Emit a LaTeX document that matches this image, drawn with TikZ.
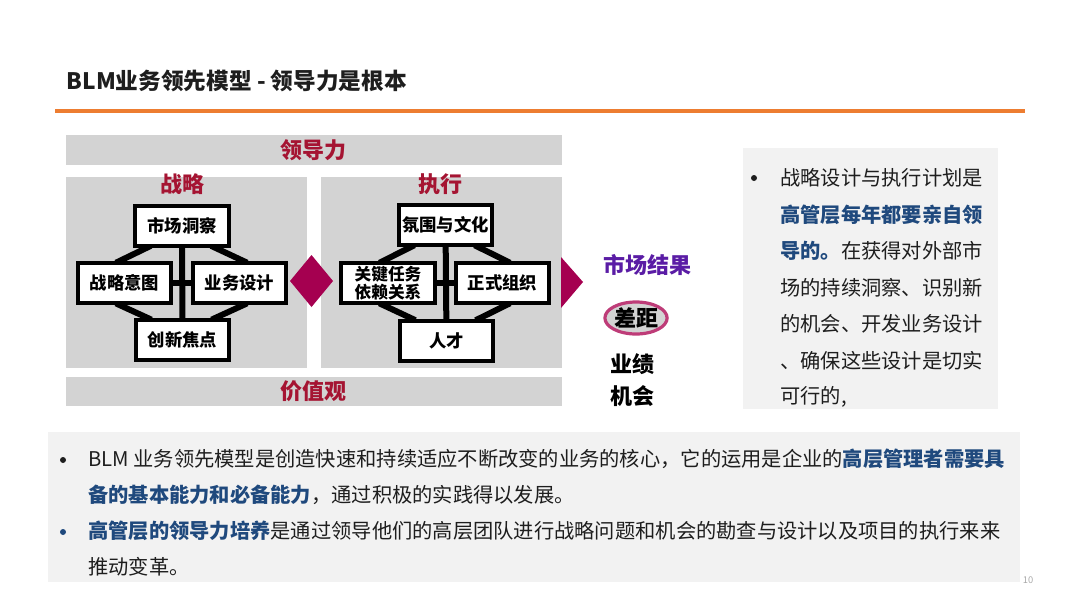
\documentclass[tikz,border=0pt]{standalone}
\usepackage{fontspec}
\setmainfont{Noto Sans CJK SC}
\usetikzlibrary{calc, shapes.geometric}

\definecolor{leadred}{RGB}{165,20,50}
\definecolor{diamondred}{RGB}{165,0,80}
\definecolor{panelgray}{RGB}{211,211,211}
\definecolor{boxgray}{RGB}{242,242,242}
\definecolor{titleline}{RGB}{237,125,49}
\definecolor{resultviolet}{RGB}{90,28,165}
\definecolor{gaprim}{RGB}{190,60,120}
\definecolor{hlblue}{RGB}{31,73,125}
\definecolor{bodytext}{RGB}{30,30,30}

\pgfdeclarelayer{panels}
\pgfdeclarelayer{links}
\pgfsetlayers{panels,links,main}

\begin{document}
\begin{tikzpicture}[x=0.75pt, y=-0.75pt,
    bartext/.style={font=\fontsize{16.5}{18}\selectfont\bfseries, text=leadred},
    elem/.style={draw=black, line width=3pt, fill=white, minimum width=70pt,
        minimum height=30pt, inner sep=1pt, font=\fontsize{13}{14}\selectfont\bfseries},
    link/.style={line width=4.5pt, black, shorten <=-3pt, shorten >=-3pt},
    bodyline/.style={anchor=west, inner sep=0pt, text=bodytext,
        font=\fontsize{15.2}{18}\selectfont},
    dot/.style={circle, fill=#1, inner sep=0pt, minimum size=4.5pt}]
    \useasboundingbox (0,0) rectangle (1080,608);

    % title and rule
    \node[anchor=west, font=\fontsize{17}{20}\selectfont\bfseries, text=bodytext] (title) at (62,81) {BLM业务领先模型 - 领导力是根本};
    \draw[titleline, line width=3pt] (55,111) -- (1025,111);

    % grey panels
    \begin{pgfonlayer}{panels}
        \fill[panelgray] (66,135) rectangle (562,165);
        \fill[panelgray] (66,177) rectangle (307,368);
        \fill[panelgray] (321,177) rectangle (562,368);
        \fill[panelgray] (66,377) rectangle (562,406);
        \fill[boxgray] (743,148) rectangle (998,409);
        \fill[boxgray] (48,432) rectangle (1020,582);
    \end{pgfonlayer}
    \node[bartext] (lead) at (313,150) {领导力};
    \node[bartext] (strat) at (182,184) {战略};
    \node[bartext] (exec) at (440,184) {执行};
    \node[bartext] (values) at (313,391) {价值观};

    % strategy boxes
    \node[elem] (mi) at (182,225.5) {市场洞察};
    \node[elem] (si) at (124.5,283) {战略意图};
    \node[elem] (bd) at (239.5,283) {业务设计};
    \node[elem] (inf) at (182.5,340) {创新焦点};

    % execution boxes
    \node[elem] (cul) at (445.5,225) {氛围与文化};
    \node[elem, inner sep=0pt, align=left, font=\fontsize{12.5}{13.5}\selectfont\bfseries] (kt) at (388,283) {关键任务\\依赖关系};
    \node[elem] (org) at (502.5,283) {正式组织};
    \node[elem] (tal) at (446.5,340.5) {人才};

    \begin{pgfonlayer}{links}
        \draw[link] (mi) -- (inf);
        \draw[link] (si) -- (bd);
        \draw[link] ($(mi.south west)+(14,0)$) -- ($(si.north)+(-5,0)$);
        \draw[link] ($(mi.south east)+(-16,0)$) -- ($(bd.north)+(4,0)$);
        \draw[link] ($(si.south)+(-5,0)$) -- ($(inf.north west)+(14,0)$);
        \draw[link] ($(bd.south)+(4,0)$) -- ($(inf.north east)+(-16,0)$);
        \draw[link] (cul) -- (tal);
        \draw[link] (kt) -- (org);
        \draw[link] ($(cul.south west)+(14,0)$) -- ($(kt.north)+(-5,0)$);
        \draw[link] ($(cul.south east)+(-16,0)$) -- ($(org.north)+(4,0)$);
        \draw[link] ($(kt.south)+(-5,0)$) -- ($(tal.north west)+(14,0)$);
        \draw[link] ($(org.south)+(4,0)$) -- ($(tal.north east)+(-16,0)$);
    \end{pgfonlayer}

    % diamond and arrow head
    \fill[diamondred] (290,281) -- (311.5,255) -- (333,281) -- (311.5,307) -- cycle;
    \fill[diamondred] (561,257) -- (583,282) -- (561,308) -- cycle;

    % market result
    \node[font=\fontsize{16.5}{18}\selectfont\bfseries, text=resultviolet] (res) at (647,265) {市场结果};
    \node[ellipse, draw=gaprim, fill=panelgray, line width=2.4pt, minimum width=45pt,
        minimum height=24pt, inner sep=0pt, font=\fontsize{16.5}{18}\selectfont\bfseries] (gap) at (636,318) {差距};
    \node[align=center, font=\fontsize{16.5}{24}\selectfont\bfseries] (perf) at (632,380) {业绩\\机会};

    % right note
    \node[dot=bodytext] (rb) at (754,178) {};
    \foreach \t [count=\i] in {战略设计与执行计划是,
        {{\bfseries\color{hlblue}高管层每年都要亲自领}},
        {{\bfseries\color{hlblue}导的。}在获得对外部市},
        场的持续洞察、识别新,
        的机会、开发业务设计,
        、确保这些设计是切实,
        {可行的,}}
        \node[bodyline] (r\i) at (780,{178+36.5*(\i-1)}) {\t};

    % bottom note
    \node[dot=bodytext] (b1) at (63,460) {};
    \node[dot=hlblue] (b2) at (63,532) {};
    \foreach \t [count=\i] in {BLM 业务领先模型是创造快速和持续适应不断改变的业务的核心，它的运用是企业的{\bfseries\color{hlblue}高层管理者需要具},
        {{\bfseries\color{hlblue}备的基本能力和必备能力}，通过积极的实践得以发展。},
        {{\bfseries\color{hlblue}高管层的领导力培养}是通过领导他们的高层团队进行战略问题和机会的勘查与设计以及项目的执行来来},
        推动变革。}
        \node[bodyline] (l\i) at (88,{459+36*(\i-1)}) {\t};

    \node[text=panelgray!80!black, font=\fontsize{7}{8}\selectfont] (pg) at (1028,580) {10};
\end{tikzpicture}
\end{document}
